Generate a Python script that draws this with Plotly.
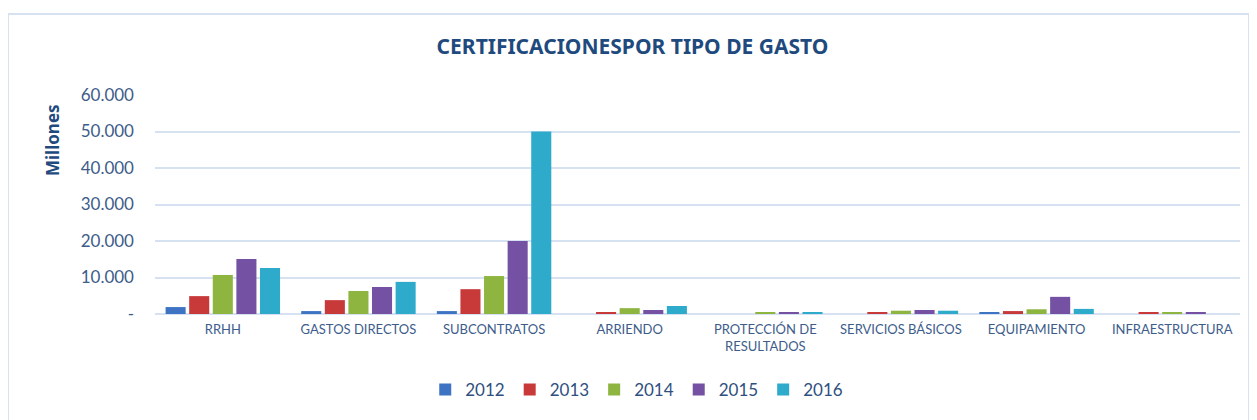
import plotly.graph_objects as go

categories = ["RRHH", "GASTOS DIRECTOS", "SUBCONTRATOS", "ARRIENDO",
              "PROTECCIÓN DE<br>RESULTADOS", "SERVICIOS BÁSICOS", "EQUIPAMIENTO", "INFRAESTRUCTURA"]
years = ["2012", "2013", "2014", "2015", "2016"]
v2012 = [1900, 800, 800, 0, 0, 0, 500, 0]
v2013 = [4900, 3800, 6800, 300, 0, 300, 800, 500]
v2014 = [10700, 6300, 10400, 1600, 500, 900, 1300, 500]
v2015 = [15100, 7400, 20000, 1100, 300, 1100, 4700, 500]
v2016 = [12600, 8800, 50000, 2200, 300, 900, 1400, 0]
series = [v2012, v2013, v2014, v2015, v2016]
colors = ["#3E73C4", "#C8393A", "#8DB540", "#7451A2", "#2EAACB"]
tick_vals = [0, 10000, 20000, 30000, 40000, 50000, 60000]
tick_text = ["-", "10.000", "20.000", "30.000", "40.000", "50.000", "60.000"]

txt = "#2F4F7F"
fig = go.Figure()
for y, vals, c in zip(years, series, colors):
    fig.add_trace(go.Bar(x=categories, y=vals, name=y, marker=dict(color=c, line=dict(width=0))))

W, H = 1249, 412
fig.update_layout(
    width=W, height=H,
    margin=dict(l=147, r=17, t=87, b=106),
    paper_bgcolor="white", plot_bgcolor="white",
    barmode="group", bargap=0.13, bargroupgap=0.15,
    font=dict(family="Lato, 'Noto Sans', sans-serif", color=txt),
    title=dict(text="<b>CERTIFICACIONESPOR TIPO DE GASTO</b>", x=0.5, xanchor="center",
               y=1 - 39 / H, yanchor="middle",
               font=dict(size=21, color="#1F4A7E", family="'Noto Sans', sans-serif")),
    showlegend=True,
    legend=dict(orientation="h", x=0.444, xanchor="center", y=-0.347, yanchor="middle",
                font=dict(size=17, color=txt), itemwidth=30, traceorder="normal"),
    xaxis=dict(showgrid=False, showline=False, ticks="", ticklabelstandoff=6,
               tickfont=dict(size=13, color="#3D5C8A")),
    yaxis=dict(range=[0, 60000], tickvals=tick_vals, ticktext=tick_text,
               showgrid=True, gridcolor="#D6E1F2", gridwidth=2, zeroline=True,
               zerolinecolor="#D6E1F2", zerolinewidth=2, showline=False, ticks="",
               ticklabelstandoff=20, tickfont=dict(size=17, color="#3D5C8A")),
    annotations=[dict(text="<b>Millones</b>", x=(52 - 155) / 1085, y=(314 - 140) / 219,
                      xref="paper", yref="paper", textangle=-90, showarrow=False,
                      xanchor="center", yanchor="middle",
                      font=dict(size=17, color="#1F4A7E", family="'Noto Sans', sans-serif"))],
    shapes=[dict(type="rect", xref="paper", yref="paper",
                 x0=(8 - 155) / 1085, x1=(1249 - 155) / 1085,
                 y0=(314 - 430) / 219, y1=(314 - 14) / 219,
                 line=dict(color="#D6E1F2", width=2), fillcolor="rgba(0,0,0,0)", layer="below")],
)
fig.write_html("out.html")
